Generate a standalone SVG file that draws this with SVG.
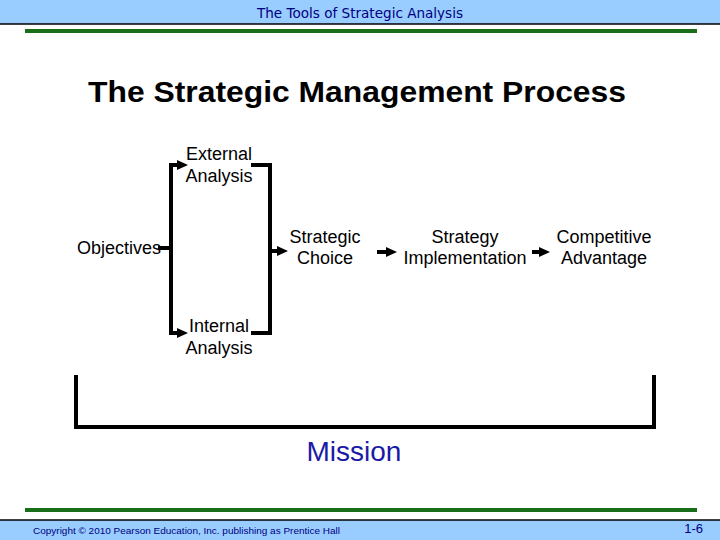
<svg xmlns="http://www.w3.org/2000/svg" width="720" height="540" viewBox="0 0 720 540">
<style>
.t{font-family:"Liberation Sans",Arial,sans-serif;font-size:18px;fill:#000;text-anchor:middle}
.c{fill:none;stroke:#000;stroke-width:4;stroke-linecap:square}
.a{fill:none;stroke:#000;stroke-width:4;stroke-linecap:butt}
.g{stroke:#1a6e1a;stroke-width:4}
</style>
<defs>
<marker id="ah" markerUnits="userSpaceOnUse" markerWidth="12" markerHeight="12" refX="1" refY="6" orient="auto">
<path d="M0,1 L11,6 L0,11 Z" fill="#000"/>
</marker>
</defs>
<rect x="0" y="0" width="720" height="24" fill="#99CCFF"/>
<line x1="0" y1="24" x2="720" y2="24" stroke="#000" stroke-width="1.5"/>
<text x="360" y="18" font-family="'DejaVu Sans',sans-serif" font-size="14" fill="#000080" text-anchor="middle" textLength="206" lengthAdjust="spacingAndGlyphs">The Tools of Strategic Analysis</text>
<line class="g" x1="25" y1="31" x2="697" y2="31"/>
<text x="357" y="102" font-family="'Liberation Sans',Arial,sans-serif" font-size="30" font-weight="bold" text-anchor="middle" textLength="538" lengthAdjust="spacingAndGlyphs">The Strategic Management Process</text>
<g id="connectors">
<path class="c" d="M171,165 V333"/>
<path class="c" d="M160,248 H171"/>
<path class="a" d="M171,165 H178" marker-end="url(#ah)"/>
<path class="a" d="M171,333 H178" marker-end="url(#ah)"/>
<path class="c" d="M253,165 H270 V333 H253"/>
<path class="a" d="M270,251 H278" marker-end="url(#ah)"/>
<path class="a" d="M377,252 H387" marker-end="url(#ah)"/>
<path class="a" d="M532,252 H540" marker-end="url(#ah)"/>
<path class="c" d="M76,377 V427 H654 V377"/>
</g>
<g id="external"><text class="t" x="219" y="160">External</text><text class="t" x="219" y="182">Analysis</text></g>
<g id="internal"><text class="t" x="219" y="332">Internal</text><text class="t" x="219" y="354">Analysis</text></g>
<g id="objectives"><text class="t" x="119" y="254">Objectives</text></g>
<g id="choice"><text class="t" x="325" y="243">Strategic</text><text class="t" x="325" y="264">Choice</text></g>
<g id="implementation"><text class="t" x="465" y="243">Strategy</text><text class="t" x="465" y="264">Implementation</text></g>
<g id="advantage"><text class="t" x="604" y="243">Competitive</text><text class="t" x="604" y="264">Advantage</text></g>
<g id="mission"><text x="354" y="461" font-family="'Liberation Sans',Arial,sans-serif" font-size="28" fill="#1a1aa6" text-anchor="middle">Mission</text></g>
<line class="g" x1="25" y1="510" x2="697" y2="510"/>
<rect x="0" y="520" width="720" height="20" fill="#99CCFF"/>
<line x1="0" y1="520" x2="720" y2="520" stroke="#000" stroke-width="1.5"/>
<text x="33" y="534" font-family="'Liberation Sans',Arial,sans-serif" font-size="9.5" fill="#000080" textLength="307" lengthAdjust="spacingAndGlyphs">Copyright © 2010 Pearson Education, Inc. publishing as Prentice Hall</text>
<text x="703" y="533" font-family="'Liberation Sans',Arial,sans-serif" font-size="13" fill="#000080" text-anchor="end">1-6</text>
</svg>
